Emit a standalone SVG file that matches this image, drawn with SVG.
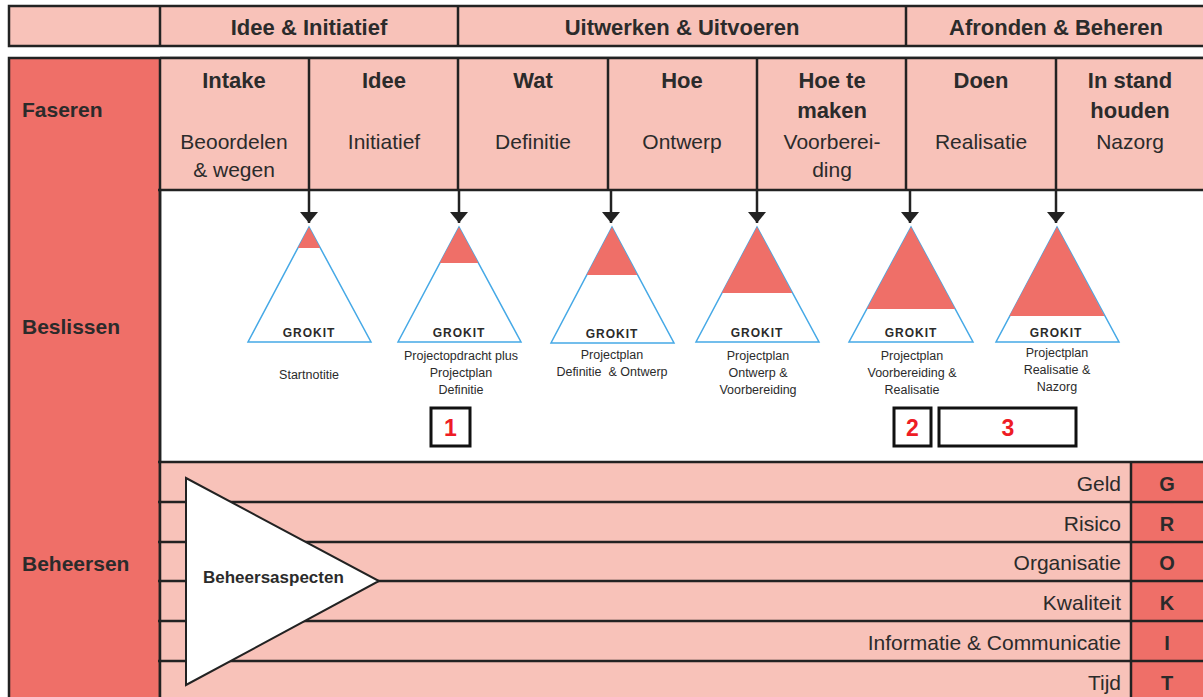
<svg xmlns="http://www.w3.org/2000/svg" width="1203" height="697" viewBox="0 0 1203 697">
<style>
text{font-family:"Liberation Sans",Arial,sans-serif;fill:#2b2b2b}
.h{font-size:22px;font-weight:bold;text-anchor:middle}
.s{font-size:21px;text-anchor:middle}
.side{font-size:21px;font-weight:bold}
.ln{stroke:#222;stroke-width:2.5;fill:none}
.lt{fill:#F8C2B9}
.dk{fill:#EF6F68}
.tri{fill:#fff;stroke:#46A9E6;stroke-width:1.5}
.red{fill:#EF6F68}
.gk{font-size:12px;font-weight:bold;letter-spacing:1px;text-anchor:middle}
.cap{font-size:12.5px;text-anchor:middle}
.row{font-size:21px;text-anchor:end}
.let{font-size:20px;font-weight:bold;text-anchor:middle}
.box{fill:#fff;stroke:#111;stroke-width:3}
.num{font-size:23px;font-weight:bold;text-anchor:middle;fill:#EE1C25}
</style>
<defs>
<marker id="ah" markerWidth="11" markerHeight="18" refX="11" refY="9" orient="auto" markerUnits="userSpaceOnUse" viewBox="0 0 11 18">
<path d="M0,0 L11,9 L0,18 Z" fill="#222"/>
</marker>
</defs>
<rect width="1203" height="697" fill="#fff"/>

<g id="header">
<rect x="9" y="6" width="1200" height="40" class="lt"/>
<rect x="9" y="6" width="1200" height="40" class="ln"/>
<line x1="160" y1="6" x2="160" y2="46" class="ln"/>
<line x1="458" y1="6" x2="458" y2="46" class="ln"/>
<line x1="906" y1="6" x2="906" y2="46" class="ln"/>
<text class="h" x="309" y="35">Idee &amp; Initiatief</text>
<text class="h" x="682" y="35">Uitwerken &amp; Uitvoeren</text>
<text class="h" x="1056" y="35">Afronden &amp; Beheren</text>
</g>

<g id="sidebar">
<rect x="9" y="58" width="151" height="645" class="dk"/>
<rect x="9" y="58" width="1200" height="645" class="ln"/>
<text class="side" x="22" y="117">Faseren</text>
<text class="side" x="22" y="334">Beslissen</text>
<text class="side" x="22" y="571">Beheersen</text>
</g>

<g id="phases">
<rect x="160" y="58" width="1049" height="132" class="lt"/>
<line x1="160" y1="58" x2="160" y2="697" class="ln"/>
<line x1="160" y1="58" x2="1209" y2="58" class="ln"/>
<line x1="158" y1="190" x2="1209" y2="190" class="ln"/>
<line x1="309" y1="58" x2="309" y2="190" class="ln"/>
<line x1="458" y1="58" x2="458" y2="190" class="ln"/>
<line x1="608" y1="58" x2="608" y2="190" class="ln"/>
<line x1="757" y1="58" x2="757" y2="190" class="ln"/>
<line x1="906" y1="58" x2="906" y2="190" class="ln"/>
<line x1="1056" y1="58" x2="1056" y2="190" class="ln"/>
<text class="h" x="234" y="88">Intake</text>
<text class="s" x="234" y="149">Beoordelen</text>
<text class="s" x="234" y="177">&amp; wegen</text>
<text class="h" x="384" y="88">Idee</text>
<text class="s" x="384" y="149">Initiatief</text>
<text class="h" x="533" y="88">Wat</text>
<text class="s" x="533" y="149">Definitie</text>
<text class="h" x="682" y="88">Hoe</text>
<text class="s" x="682" y="149">Ontwerp</text>
<text class="h" x="832" y="88">Hoe te</text>
<text class="h" x="832" y="118">maken</text>
<text class="s" x="832" y="149">Voorberei-</text>
<text class="s" x="832" y="177">ding</text>
<text class="h" x="981" y="88">Doen</text>
<text class="s" x="981" y="149">Realisatie</text>
<text class="h" x="1130" y="88">In stand</text>
<text class="h" x="1130" y="118">houden</text>
<text class="s" x="1130" y="149">Nazorg</text>
</g>

<g id="connectors">
<line x1="309" y1="190" x2="309" y2="223" class="ln" marker-end="url(#ah)"/>
<line x1="459" y1="190" x2="459" y2="223" class="ln" marker-end="url(#ah)"/>
<line x1="611" y1="190" x2="611" y2="223" class="ln" marker-end="url(#ah)"/>
<line x1="757" y1="190" x2="757" y2="223" class="ln" marker-end="url(#ah)"/>
<line x1="910" y1="190" x2="910" y2="223" class="ln" marker-end="url(#ah)"/>
<line x1="1056" y1="190" x2="1056" y2="223" class="ln" marker-end="url(#ah)"/>
</g>

<g id="grokit1">
<polygon class="tri" points="309,227 248,342 371,342"/>
<polygon class="red" points="309,227 297.8,248 320.2,248"/>
<text class="gk" x="309" y="337">GROKIT</text>
<text class="cap" x="309" y="379">Startnotitie</text>
</g>
<g id="grokit2">
<polygon class="tri" points="459,227 398,342 521,342"/>
<polygon class="red" points="459,227 439.6,263 478.4,263"/>
<text class="gk" x="459" y="337">GROKIT</text>
<text class="cap" x="461" y="360">Projectopdracht plus</text>
<text class="cap" x="461" y="377">Projectplan</text>
<text class="cap" x="461" y="394">Definitie</text>
</g>
<g id="grokit3">
<polygon class="tri" points="612,227 551,343 674,343"/>
<polygon class="red" points="612,227 586.6,275 637.4,275"/>
<text class="gk" x="612" y="338">GROKIT</text>
<text class="cap" x="612" y="359">Projectplan</text>
<text class="cap" x="612" y="376" style="white-space:pre">Definitie  &amp; Ontwerp</text>
</g>
<g id="grokit4">
<polygon class="tri" points="757,227 696,342 819,342"/>
<polygon class="red" points="757,227 721.7,293 792.3,293"/>
<text class="gk" x="757" y="337">GROKIT</text>
<text class="cap" x="758" y="360">Projectplan</text>
<text class="cap" x="758" y="377">Ontwerp &amp;</text>
<text class="cap" x="758" y="394">Voorbereiding</text>
</g>
<g id="grokit5">
<polygon class="tri" points="911,227 849,342 973,342"/>
<polygon class="red" points="911,227 866.8,309 955.2,309"/>
<text class="gk" x="911" y="337">GROKIT</text>
<text class="cap" x="912" y="360">Projectplan</text>
<text class="cap" x="912" y="377">Voorbereiding &amp;</text>
<text class="cap" x="912" y="394">Realisatie</text>
</g>
<g id="grokit6">
<polygon class="tri" points="1057,227 996,342 1119,342"/>
<polygon class="red" points="1057,227 1009.4,316 1104.6,316"/>
<text class="gk" x="1056" y="337">GROKIT</text>
<text class="cap" x="1057" y="357">Projectplan</text>
<text class="cap" x="1057" y="374">Realisatie &amp;</text>
<text class="cap" x="1057" y="391">Nazorg</text>
</g>

<g id="box1">
<rect class="box" x="431" y="408" width="39" height="38"/>
<text class="num" x="450.5" y="436">1</text>
</g>
<g id="box2">
<rect class="box" x="894" y="408" width="37" height="38"/>
<text class="num" x="912.5" y="436">2</text>
</g>
<g id="box3">
<rect class="box" x="939" y="408" width="137" height="38"/>
<text class="num" x="1008" y="436">3</text>
</g>

<g id="beheersen">
<rect x="160" y="462" width="971" height="240" class="lt"/>
<rect x="1131" y="462" width="78" height="240" class="dk"/>
<line x1="158" y1="462" x2="1209" y2="462" class="ln"/>
<line x1="158" y1="502" x2="1209" y2="502" class="ln"/>
<line x1="158" y1="542" x2="1209" y2="542" class="ln"/>
<line x1="158" y1="581" x2="1209" y2="581" class="ln"/>
<line x1="158" y1="621" x2="1209" y2="621" class="ln"/>
<line x1="158" y1="661" x2="1209" y2="661" class="ln"/>
<line x1="1131" y1="462" x2="1131" y2="697" class="ln"/>
<line x1="160" y1="190" x2="160" y2="697" class="ln"/>
<text class="row" x="1121" y="491">Geld</text>
<text class="row" x="1121" y="531">Risico</text>
<text class="row" x="1121" y="570">Organisatie</text>
<text class="row" x="1121" y="610">Kwaliteit</text>
<text class="row" x="1121" y="650">Informatie &amp; Communicatie</text>
<text class="row" x="1121" y="690">Tijd</text>
<text class="let" x="1167" y="491">G</text>
<text class="let" x="1167" y="531">R</text>
<text class="let" x="1167" y="570">O</text>
<text class="let" x="1167" y="610">K</text>
<text class="let" x="1167" y="650">I</text>
<text class="let" x="1167" y="690">T</text>
</g>

<g id="beheersaspecten">
<polygon points="186,478 186,685 379,581" fill="#fff" stroke="#222" stroke-width="2"/>
<text x="203" y="583" style="font-size:17px;font-weight:bold">Beheersaspecten</text>
</g>
</svg>
